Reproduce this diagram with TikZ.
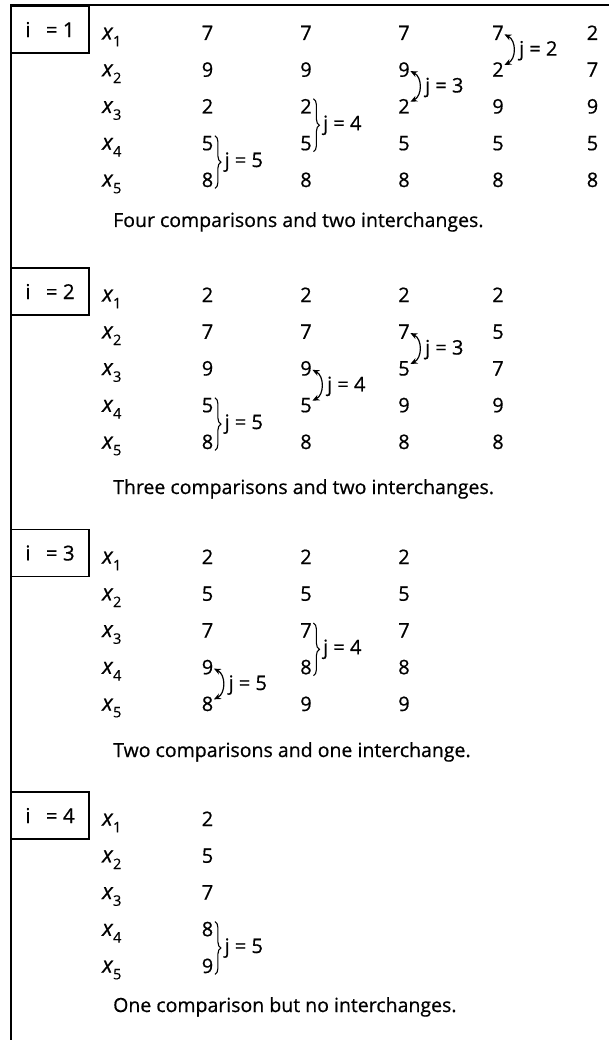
\documentclass[tikz,border=0pt]{standalone}
\usepackage{fontspec}
\setmainfont{Open Sans}[FakeBold=0.6]
\usetikzlibrary{decorations.pathreplacing,arrows.meta,calc}
\newcommand{\xl}[1]{{\fontsize{22}{24}\selectfont\itshape x}\kern0.3pt\raisebox{-0.34em}{\fontsize{14.5}{15}\selectfont #1}}
\newcommand{\numcol}[5]{% #1 section, #2 column, #3 x, #4 row1 y, #5 values
  \foreach \v [count=\r] in {#5} {
    \node[num] (#1c#2r\r) at (#3, {#4 + (\r-1)*36.75 + 7}) {\v};
  }
}
\newcommand{\rowlabels}[2]{% #1 section, #2 row1 y
  \foreach \r in {1,...,5} {
    \node[num, anchor=base west] (#1x\r) at (102, {#2 + (\r-1)*36.75 + 6.5}) {\xl{\r}};
  }
}
\newcommand{\bracepair}[5]{% #1 sec, #2 col, #3 rowA, #4 rowB, #5 j
  \draw[brc] ([shift={(1.5,0)}]#1c#2r#3.north east) -- ([shift={(1.5,1)}]#1c#2r#4.south east);
  \node[jlab] (#1j#2) at ($(#1c#2r#3.east)!0.5!(#1c#2r#4.east)+(11,5.5)$) {j = #5};
}
\newcommand{\swappair}[5]{% #1 sec, #2 col, #3 rowA, #4 rowB, #5 j
  \draw[swp] ([shift={(0.5,1.5)}]#1c#2r#3.east) .. controls +(12,6) and +(12,-6) .. ([shift={(0.5,-4.5)}]#1c#2r#4.east);
  \node[jlab] (#1j#2) at ($(#1c#2r#3.east)!0.5!(#1c#2r#4.east)+(15,4.5)$) {j = #5};
}
\begin{document}
\begin{tikzpicture}[x=1pt,y=-1pt,
  num/.style={font=\fontsize{20}{23}\selectfont, inner sep=0pt, anchor=base},
  jlab/.style={font=\fontsize{20}{23}\selectfont, inner sep=0pt, anchor=base west},
  captext/.style={font=\fontsize{19.5}{23}\selectfont, inner sep=0pt, anchor=base west},
  ibox/.style={draw, line width=1.2pt, minimum width=78pt, minimum height=47pt, inner sep=0pt,
    font=\fontsize{20.5}{23}\selectfont},
  frame/.style={line width=1.3pt},
  brc/.style={decorate, decoration={brace, amplitude=6pt}, line width=1.1pt},
  swp/.style={line width=1.2pt, {Stealth[length=7pt,width=6pt]}-{Stealth[length=7pt,width=6pt]}}
]
\useasboundingbox (0,0) rectangle (609,1040);
\coordinate (ftop) at (609,5);
\coordinate (fcorner) at (11,5);
\coordinate (fbot) at (11,1040);
\draw[frame] (fbot) -- (fcorner) -- (ftop);

% ---------- i = 1 ----------
\node[ibox] (box1) at (50,29.5) {i\hspace{0.75em}= 1};
\rowlabels{a}{33}
\numcol{a}{1}{207.5}{33}{7,9,2,5,8}
\numcol{a}{2}{306}{33}{7,9,2,5,8}
\numcol{a}{3}{404}{33}{7,9,2,5,8}
\numcol{a}{4}{498}{33}{7,2,9,5,8}
\numcol{a}{5}{592.5}{33}{2,7,9,5,8}
\bracepair{a}{1}{4}{5}{5}
\bracepair{a}{2}{3}{4}{4}
\swappair{a}{3}{2}{3}{3}
\swappair{a}{4}{1}{2}{2}
\node[captext] (cap1) at (113,227) {Four comparisons and two interchanges.};

% ---------- i = 2 ----------
\node[ibox] (box2) at (50,291.5) {i\hspace{0.75em}= 2};
\rowlabels{b}{295}
\numcol{b}{1}{207.5}{295}{2,7,9,5,8}
\numcol{b}{2}{306}{295}{2,7,9,5,8}
\numcol{b}{3}{404}{295}{2,7,5,9,8}
\numcol{b}{4}{498}{295}{2,5,7,9,8}
\bracepair{b}{1}{4}{5}{5}
\swappair{b}{2}{3}{4}{4}
\swappair{b}{3}{2}{3}{3}
\node[captext] (cap2) at (113,494) {Three comparisons and two interchanges.};

% ---------- i = 3 ----------
\node[ibox] (box3) at (50,553) {i\hspace{0.75em}= 3};
\rowlabels{c}{557}
\numcol{c}{1}{207.5}{557}{2,5,7,9,8}
\numcol{c}{2}{306}{557}{2,5,7,8,9}
\numcol{c}{3}{404}{557}{2,5,7,8,9}
\swappair{c}{1}{4}{5}{5}
\bracepair{c}{2}{3}{4}{4}
\node[captext] (cap3) at (113,757) {Two comparisons and one interchange.};

% ---------- i = 4 ----------
\node[ibox] (box4) at (50,815.5) {i\hspace{0.75em}= 4};
\rowlabels{d}{819}
\numcol{d}{1}{207.5}{819}{2,5,7,8,9}
\bracepair{d}{1}{4}{5}{5}
\node[captext] (cap4) at (113,1012) {One comparison but no interchanges.};
\end{tikzpicture}
\end{document}
